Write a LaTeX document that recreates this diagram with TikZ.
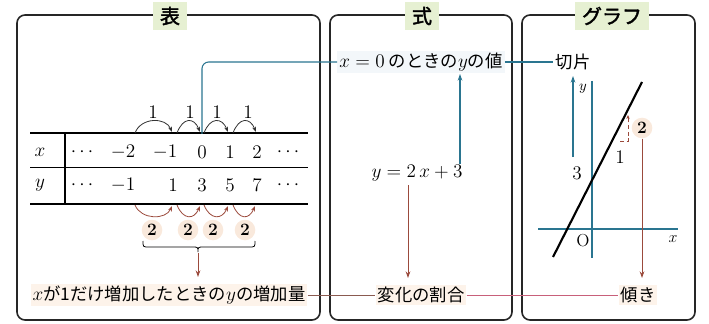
\documentclass[tikz,border=0pt]{standalone}
\usepackage{fontspec}
\newfontfamily\jp{Noto Sans CJK JP}
\newfontfamily\jpb[AutoFakeBold=2]{Noto Sans CJK JP}
\usetikzlibrary{arrows.meta,calc}
\definecolor{pblue}{HTML}{2A7590}
\definecolor{pred}{HTML}{9B4A3C}
\definecolor{pbrown}{HTML}{8A5A50}
\definecolor{ppink}{HTML}{C8607A}
\definecolor{tgreen}{HTML}{E6F0D2}
\definecolor{peach}{HTML}{F9E9DC}
\definecolor{lpeach}{HTML}{FDF3EA}
\definecolor{lblue}{HTML}{F3F7FA}
\newcommand\mymath[1]{{\fontsize{15}{17}\selectfont$#1$}}
\begin{document}
\begin{tikzpicture}[x=0.75pt,y=-0.75pt,
  panel/.style={draw=black!85,line width=1.2pt,rounded corners=6pt},
  ttl/.style={fill=tgreen,font=\jpb\bfseries\fontsize{15}{17}\selectfont,inner xsep=5pt,inner ysep=3pt,minimum height=21pt},
  jt/.style={font=\jp\fontsize{13}{15}\selectfont,inner sep=1.5pt},
  mt/.style={font=\fontsize{14}{16}\selectfont,inner sep=1pt},
  circ/.style={circle,fill=peach,inner sep=1.5pt,font=\fontsize{13}{15}\selectfont\bfseries},
  arcb/.style={draw=black!80,line width=0.6pt,-{Stealth[length=4pt,width=3pt]}},
  arcr/.style={draw=pred,line width=0.6pt,-{Stealth[length=4pt,width=3pt]}},
  ablue/.style={draw=pblue,line width=0.8pt,-{Stealth[length=5pt,width=3.5pt]}},
  ared/.style={draw=pred,line width=0.7pt,-{Stealth[length=5pt,width=3.5pt]}},
  cblue/.style={draw=pblue,line width=0.8pt},
]
\useasboundingbox (0,0) rectangle (709,324);
% panels
\draw[panel] (17,15) rectangle (320,320);
\draw[panel] (330,15) rectangle (512,320);
\draw[panel] (522,15) rectangle (695,320);
\node[ttl] (t1) at (170,16) {表};
\node[ttl] (t2) at (422,16) {式};
\node[ttl] (t3) at (612,16) {グラフ};
% table
\draw[line width=1pt] (30,133) -- (308,133);
\draw[line width=0.6pt] (30,167) -- (308,167);
\draw[line width=1.4pt] (30,204) -- (308,204);
\draw[line width=0.8pt] (65,133) -- (65,204);
\foreach \n/\px/\t in {xa/40/x, xb/82/\cdots, xc/123/-2, xd/165/-1, xe/202/0, xf/230/1, xg/257/2, xh/288/\cdots}
  \node[mt] (\n) at (\px,152) {$\t$};
\foreach \n/\px/\t in {ya/40/y, yb/82/\cdots, yc/123/-1, yd/173/1, ye/202/3, yf/230/5, yg/257/7, yh/288/\cdots}
  \node[mt] (\n) at (\px,185) {$\t$};
% top arcs
\foreach \a/\b/\l [count=\i] in {135/172/153, 177/200/190, 204/228/217, 233/256/248}{
  \draw[arcb] (\a,133) .. controls (\a+6,117) and (\b-6,117) .. (\b,132);
  \node[mt] (one\i) at (\l,112) {$1$};
}
% bottom arcs
\foreach \a/\b/\l [count=\i] in {135/172/152, 177/200/188, 204/228/213, 233/255/245}{
  \draw[arcr] (\a,205) .. controls (\a+6,220) and (\b-6,220) .. (\b,206);
  \node[circ] (two\i) at (\l,230) {2};
}
% brace
\draw[line width=0.6pt] (143,241) .. controls (143,247) .. (149,247) -- (192,247)
  .. controls (198,247) .. (198,252) .. controls (198,247) .. (204,247) -- (249,247)
  .. controls (255,247) .. (255,241);
\coordinate (bt) at (198,253);
% texts
\node[jt,fill=lblue] (val) at (421,62) {\mymath{x=0}\ のときの\mymath{y}の値};
\node[jt] (kp) at (573,62) {切片};
\node[mt] (eq) at (417,173) {\mymath{y=2\,x+3}};
\node[jt,fill=lpeach] (rate) at (421,295) {変化の割合};
\node[jt,fill=lpeach] (slope) at (638,295) {傾き};
\node[jt,fill=lpeach] (inc) at (169,295) {\mymath{x}が1だけ増加したときの\mymath{y}の増加量};
% connectors
\draw[cblue,rounded corners=5pt] (xe.north |- 0,134) |- (val.west);
\draw[cblue] (val.east) -- (kp.west);
\draw[draw=pbrown,line width=0.6pt] (inc.east) -- (rate.west);
\draw[draw=ppink,line width=0.7pt] (rate.east) -- (slope.west);
\draw[ared] (bt) -- (198,277);
\coordinate (eqthree) at (460,164);
\coordinate (valy) at (460,74);
\draw[ablue] (eqthree) -- (valy);
\coordinate (eqtwo) at (408,185);
\coordinate (rateup) at (408,278);
\draw[ared] (eqtwo) -- (rateup);
% graph
\draw[pblue,line width=1pt] (592,81) -- (592,258);
\draw[pblue,line width=1pt] (538,229) -- (678,229);
\draw[line width=1.6pt] (553,257) -- (642,82);
\node[mt,font=\fontsize{11}{13}\selectfont] (ylab) at (583,89) {$y$};
\node[mt,font=\fontsize{13}{15}\selectfont] (olab) at (583,241) {O};
\node[mt,font=\fontsize{13}{15}\selectfont] (xlab) at (673,239) {$x$};
\coordinate (ks) at (573,157);
\coordinate (ke) at (573,76);
\draw[ablue] (ks) -- (ke);
\node[mt] (three) at (577,173) {$3$};
\draw[draw=pred,line width=0.6pt,densely dashed] (620,141) -- (628,141) -- (628,119);
\draw[draw=pred,line width=0.6pt,-{Stealth[length=3pt,width=2.5pt]}] (628,121) -- (628,115);
\node[mt] (gone) at (620,157) {$1$};
\node[circ] (gtwo) at (642,128) {2};
\draw[ared] (gtwo.south) -- (642,278);
\end{tikzpicture}
\end{document}
